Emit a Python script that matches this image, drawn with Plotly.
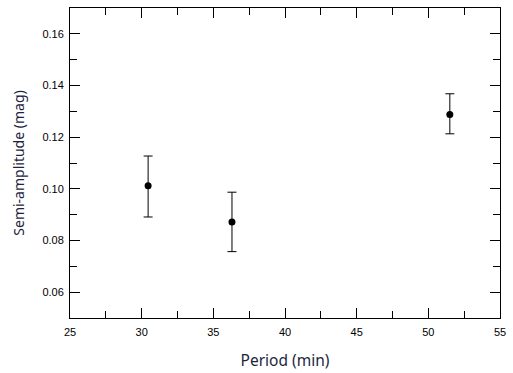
import plotly.graph_objects as go

period = [30.45, 36.3, 51.5]
amplitude = [0.1012, 0.0872, 0.1288]
err_plus = [0.0115, 0.0115, 0.0080]
err_minus = [0.0121, 0.0115, 0.0075]

x_ticks = [25, 30, 35, 40, 45, 50, 55]
y_ticks = [0.06, 0.08, 0.10, 0.12, 0.14, 0.16]
y_tick_labels = ["0.06", "0.08", "0.10", "0.12", "0.14", "0.16"]

fig = go.Figure()
fig.add_trace(go.Scatter(
    x=period, y=amplitude, mode="markers",
    marker=dict(color="black", size=7),
    error_y=dict(type="data", symmetric=False, array=err_plus, arrayminus=err_minus,
                 color="black", thickness=1, width=4.5),
    showlegend=False,
))

axis_common = dict(
    showline=True, linecolor="black", linewidth=1, mirror="ticks",
    ticks="inside", ticklen=10, tickwidth=1, tickcolor="black",
    showgrid=False, zeroline=False,
    tickfont=dict(family="Liberation Sans, Arial", size=11, color="black"),
)

fig.update_xaxes(
    range=[25, 55], tickvals=x_ticks, ticktext=[str(v) for v in x_ticks],
    ticklabelstandoff=4,
    minor=dict(ticks="inside", ticklen=7, dtick=2.5, tickcolor="black", tickwidth=1, showgrid=False),
    title=dict(text="Period (min)", font=dict(family="Noto Sans, Open Sans", size=15.5, color="#231f3f"), standoff=17),
    **axis_common,
)
fig.update_yaxes(
    range=[0.05, 0.17], tickvals=y_ticks, ticktext=y_tick_labels,
    ticklabelstandoff=3,
    minor=dict(ticks="inside", ticklen=7, dtick=0.01, tickcolor="black", tickwidth=1, showgrid=False),
    title=dict(text="Semi-amplitude (mag)", font=dict(family="Noto Sans, Open Sans", size=14, color="#231f3f"), standoff=14),
    **axis_common,
)

fig.update_layout(
    width=513, height=373,
    margin=dict(l=70, r=11, t=7, b=54),
    plot_bgcolor="white", paper_bgcolor="white",
)

fig.write_html("out.html", config={"displayModeBar": False},
               post_script="document.body.style.margin='0px';")
